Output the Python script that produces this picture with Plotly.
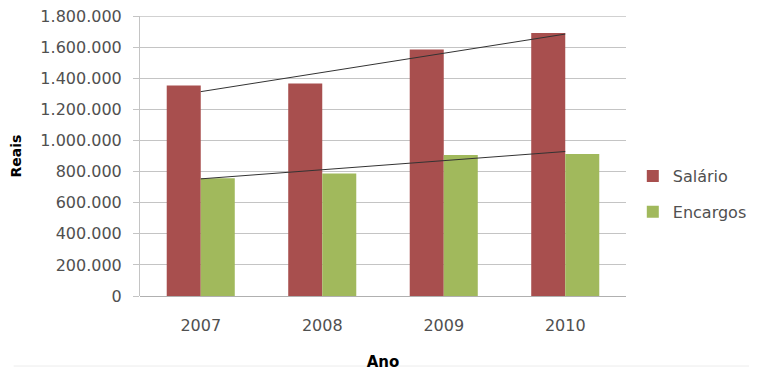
import numpy as np
import plotly.graph_objects as go

anos = ["2007", "2008", "2009", "2010"]
salario = [1354000, 1368000, 1586000, 1693000]
encargos = [757000, 789000, 908000, 913000]
y_ticks = [0, 200000, 400000, 600000, 800000, 1000000, 1200000, 1400000, 1600000, 1800000]
y_tick_labels = ["0", "200.000", "400.000", "600.000", "800.000", "1.000.000",
                 "1.200.000", "1.400.000", "1.600.000", "1.800.000"]

FONT = "DejaVu Sans"
TXT = "#505050"
GRID = "#c4c4c4"
idx = np.arange(len(anos))

def trend(vals):
    m, b = np.polyfit(idx, vals, 1)
    return list(m * idx + b)

fig = go.Figure()
fig.add_trace(go.Bar(x=anos, y=salario, name="Salário", marker_color="#A84F4E",
                     marker_line_width=0, legendgroup="s"))
fig.add_trace(go.Bar(x=anos, y=encargos, name="Encargos", marker_color="#A1B95C",
                     marker_line_width=0, legendgroup="e"))
fig.add_trace(go.Scatter(x=anos, y=trend(salario), mode="lines", showlegend=False,
                         line=dict(color="#333333", width=1), hoverinfo="skip"))
fig.add_trace(go.Scatter(x=anos, y=trend(encargos), mode="lines", showlegend=False,
                         line=dict(color="#333333", width=1), hoverinfo="skip"))

# top gridline (at the edge of the axis range) and its tick mark
fig.add_shape(type="line", xref="paper", yref="y", x0=-0.012, x1=1, y0=y_ticks[-1], y1=y_ticks[-1],
              line=dict(color=GRID, width=1), layer="below")
# faint chart frame (right and bottom edges)
fig.add_shape(type="line", xref="paper", yref="paper", x0=1.2551, x1=1.2551, y0=-0.25, y1=1.02,
              line=dict(color="#dcdcdc", width=1))
fig.add_shape(type="line", xref="paper", yref="paper", x0=-0.26, x1=1.2551, y0=-0.25, y1=-0.25,
              line=dict(color="#ececec", width=1))

fig.update_layout(
    width=749, height=364,
    margin=dict(l=132, r=131, t=8, b=76, autoexpand=False),
    paper_bgcolor="white", plot_bgcolor="white",
    barmode="group", bargap=0.44, bargroupgap=0,
    font=dict(family=FONT, size=16, color=TXT),
    legend=dict(x=1.014, y=0.364, xanchor="left", yanchor="middle",
                traceorder="grouped", tracegroupgap=12,
                font=dict(family=FONT, size=16, color=TXT),
                itemwidth=30),
    xaxis=dict(showgrid=False, showline=False, ticks="", automargin=False,
               ticklabelstandoff=18,
               tickfont=dict(family=FONT, size=16, color=TXT),
               title=dict(text="<b>Ano</b>", font=dict(family=FONT, size=15, color="#000000"),
                          standoff=22)),
    yaxis=dict(range=[0, 1801800], tickvals=y_ticks, ticktext=y_tick_labels,
               automargin=False, ticklabeloverflow="allow",
               showgrid=True, gridcolor=GRID, gridwidth=1,
               zeroline=True, zerolinecolor="#b0b0b0", zerolinewidth=1,
               showline=True, linecolor=GRID, linewidth=1,
               ticks="outside", ticklen=6, tickcolor=GRID,
               ticklabelstandoff=8,
               tickfont=dict(family=FONT, size=16, color=TXT),
               title=dict(text="<b>Reais</b>", font=dict(family=FONT, size=14, color="#000000"),
                          standoff=20)),
    showlegend=True,
)

fig.write_html("out.html")
